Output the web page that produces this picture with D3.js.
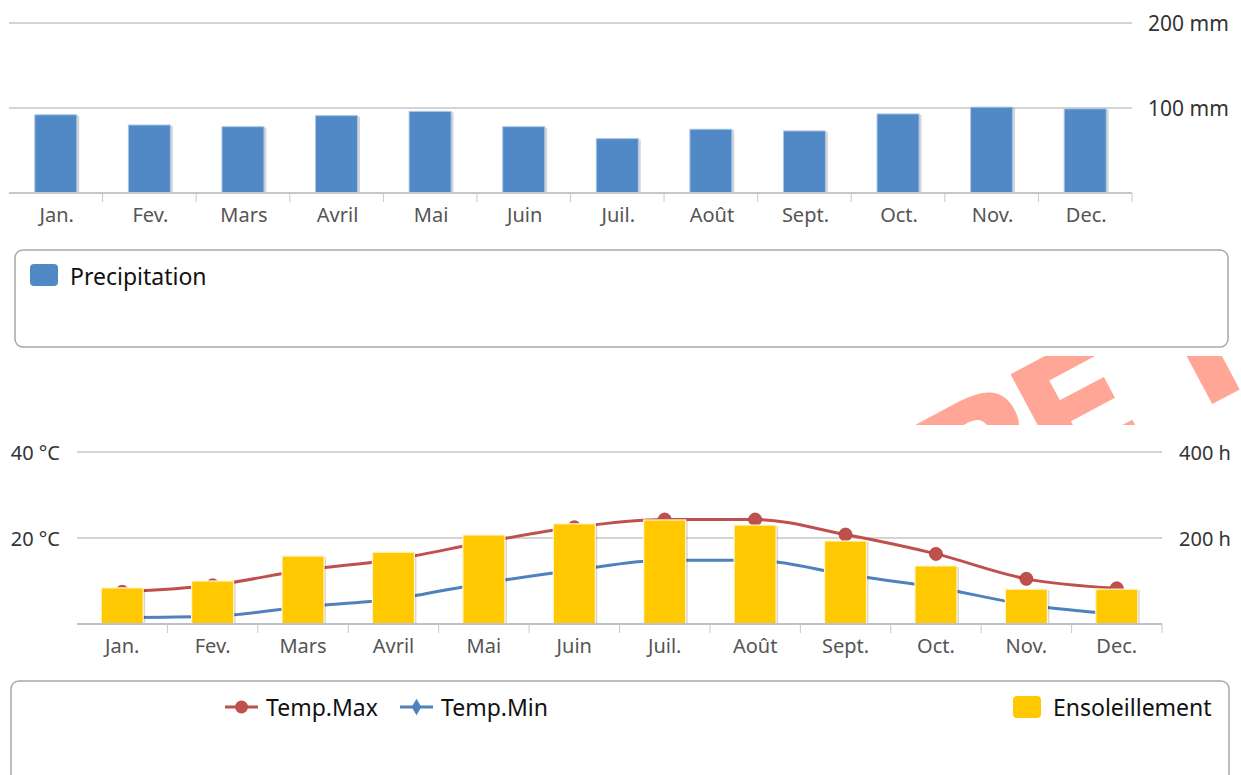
<!DOCTYPE html>
<html>
<head>
<meta charset="utf-8">
<script src="https://cdn.jsdelivr.net/npm/d3@7"></script>
<style>
  html, body { margin: 0; padding: 0; background: #ffffff; }
  svg { display: block; font-family: "Noto Sans", "DejaVu Sans", sans-serif; }
</style>
</head>
<body>
<svg id="chart" width="1241" height="775"></svg>
<script>
// ---------- DATA ----------
const months = ["Jan.", "Fev.", "Mars", "Avril", "Mai", "Juin", "Juil.", "Août", "Sept.", "Oct.", "Nov.", "Dec."];
const precipitation = [92, 80, 78, 91, 96, 78, 64, 75, 73, 93, 101, 99];      // mm
const tempMax = [7.5, 9, 12.5, 15, 19, 22.5, 24.3, 24.3, 20.8, 16.3, 10.5, 8.3]; // °C
const tempMin = [1.5, 1.8, 4, 5.8, 9.5, 12.5, 14.8, 14.8, 11.5, 8.5, 4.5, 2.3];  // °C
const sunshine = [84, 100, 158, 167, 207, 233, 242, 230, 193, 135, 81, 81];      // h
const precipTicks = [100, 200];
const tempTicks = [20, 40];
const sunTicks = [200, 400];
const legendTop = ["Precipitation"];
const legendBottomLines = ["Temp.Max", "Temp.Min"];
const legendBottomBars = ["Ensoleillement"];

// ---------- STYLE ----------
const C = {
  precip: "#5089c6", precipEdge: "#a9c6e8",
  sun: "#ffc800", sunEdge: "#fff6d0",
  max: "#c0504d", min: "#4f81bd",
  grid: "#d4d4d4", axis: "#c4c8cc", tick: "#c4c8cc",
  label: "#555555", yLabel: "#333333", legend: "#111111",
  shadow: "rgba(0,0,0,0.16)"
};

const svg = d3.select("#chart");

// ---------- WATERMARK (behind charts, only visible in the gap) ----------
const clip = svg.append("defs").append("clipPath").attr("id", "wmclip");
clip.append("rect").attr("x", 0).attr("y", 356).attr("width", 1241).attr("height", 69);
const wm = svg.append("g").attr("clip-path", "url(#wmclip)")
  .append("g").attr("transform", "translate(1013,373) rotate(-28)");
[["R", -125], ["E", -18], ["F", 146]].forEach(([ch, dx]) => {
  wm.append("text").attr("x", dx).attr("y", 121)
    .attr("font-family", "DejaVu Sans").attr("font-weight", "bold")
    .attr("font-size", 166).attr("fill", "#ffa696").text(ch);
});

// ---------- TOP CHART : precipitation ----------
const tc = { left: 9, right: 1132, base: 193 };
const xTop = d3.scaleBand().domain(months).range([tc.left, tc.right]).padding(0);
const yPrecip = d3.scaleLinear().domain([0, 200]).range([tc.base, 23]);

const gTop = svg.append("g");
gTop.selectAll("line.grid").data(precipTicks).join("line")
  .attr("x1", tc.left).attr("x2", tc.right)
  .attr("y1", d => yPrecip(d)).attr("y2", d => yPrecip(d))
  .attr("stroke", C.grid).attr("stroke-width", 2);
gTop.selectAll("text.yl").data(precipTicks).join("text")
  .attr("x", 1148).attr("y", d => yPrecip(d))
  .attr("dominant-baseline", "central")
  .attr("font-size", 21).attr("fill", C.yLabel)
  .text(d => d + " mm");

const bwTop = 43;
gTop.selectAll("rect.sh").data(precipitation).join("rect")
  .attr("x", (d, i) => xTop(months[i]) + xTop.bandwidth() / 2 - bwTop / 2 + 2)
  .attr("y", d => yPrecip(d) + 1)
  .attr("width", bwTop).attr("height", d => tc.base - yPrecip(d) - 1)
  .attr("fill", C.shadow);
gTop.selectAll("rect.bar").data(precipitation).join("rect")
  .attr("x", (d, i) => xTop(months[i]) + xTop.bandwidth() / 2 - bwTop / 2 + 0.5)
  .attr("y", d => yPrecip(d))
  .attr("width", bwTop - 1).attr("height", d => tc.base - yPrecip(d))
  .attr("fill", C.precip).attr("stroke", C.precipEdge).attr("stroke-width", 1);

gTop.append("line").attr("x1", tc.left).attr("x2", tc.right)
  .attr("y1", tc.base).attr("y2", tc.base)
  .attr("stroke", C.axis).attr("stroke-width", 2);
gTop.selectAll("line.tk").data(months).join("line")
  .attr("x1", d => xTop(d) + xTop.bandwidth()).attr("x2", d => xTop(d) + xTop.bandwidth())
  .attr("y1", tc.base).attr("y2", tc.base + 9)
  .attr("stroke", C.tick).attr("stroke-width", 1);
gTop.selectAll("text.xl").data(months).join("text")
  .attr("x", d => xTop(d) + xTop.bandwidth() / 2 + 1).attr("y", 214)
  .attr("text-anchor", "middle").attr("dominant-baseline", "central")
  .attr("font-size", 20).attr("fill", C.label).text(d => d);

// legend box 1
svg.append("rect").attr("x", 15).attr("y", 250).attr("width", 1213).attr("height", 97)
  .attr("rx", 8).attr("fill", "#fff").attr("stroke", "#a8a8a8").attr("stroke-width", 1.5);
svg.append("rect").attr("x", 30).attr("y", 264).attr("width", 28).attr("height", 22)
  .attr("rx", 4).attr("fill", C.precip);
svg.append("text").attr("x", 70).attr("y", 276).attr("dominant-baseline", "central")
  .attr("font-size", 23).attr("fill", C.legend).text(legendTop[0]);

// ---------- BOTTOM CHART : temperatures + sunshine ----------
const bc = { left: 77, right: 1162, base: 624 };
const xBot = d3.scaleBand().domain(months).range([bc.left, bc.right]).padding(0);
const yTemp = d3.scaleLinear().domain([0, 40]).range([bc.base, 452]);
const ySun = d3.scaleLinear().domain([0, 400]).range([bc.base, 452]);
const cx = i => xBot(months[i]) + xBot.bandwidth() / 2;

const gBot = svg.append("g");
// white background covering the watermark
gBot.append("rect").attr("x", 0).attr("y", 425).attr("width", 1241).attr("height", 350).attr("fill", "#fff");

gBot.selectAll("line.grid").data(tempTicks).join("line")
  .attr("x1", bc.left).attr("x2", bc.right)
  .attr("y1", d => yTemp(d)).attr("y2", d => yTemp(d))
  .attr("stroke", C.grid).attr("stroke-width", 2);
gBot.selectAll("text.yl").data(tempTicks).join("text")
  .attr("x", 60).attr("y", d => yTemp(d)).attr("text-anchor", "end")
  .attr("dominant-baseline", "central").attr("font-size", 20).attr("fill", C.yLabel)
  .text(d => d + " °C");
gBot.selectAll("text.yr").data(sunTicks).join("text")
  .attr("x", 1179).attr("y", d => ySun(d))
  .attr("dominant-baseline", "central").attr("font-size", 20).attr("fill", C.yLabel)
  .text(d => d + " h");

const line = d3.line().x((d, i) => cx(i)).curve(d3.curveMonotoneX);
gBot.append("path").datum(tempMin).attr("d", line.y(d => yTemp(d)))
  .attr("fill", "none").attr("stroke", C.min).attr("stroke-width", 3);
gBot.append("path").datum(tempMax).attr("d", line.y(d => yTemp(d)))
  .attr("fill", "none").attr("stroke", C.max).attr("stroke-width", 3);
gBot.selectAll("path.dmin").data(tempMin).join("path")
  .attr("d", d3.symbol(d3.symbolDiamond, 70))
  .attr("transform", (d, i) => `translate(${cx(i)},${yTemp(d)})`)
  .attr("fill", C.min);
gBot.selectAll("circle.dmax").data(tempMax).join("circle")
  .attr("cx", (d, i) => cx(i)).attr("cy", d => yTemp(d)).attr("r", 6.5)
  .attr("fill", C.max).attr("stroke", "#a8403d").attr("stroke-width", 0.8);

const bwBot = 42;
gBot.selectAll("rect.sh").data(sunshine).join("rect")
  .attr("x", (d, i) => cx(i) - bwBot / 2 + 2).attr("y", d => ySun(d) + 1)
  .attr("width", bwBot).attr("height", d => bc.base - ySun(d) - 1)
  .attr("fill", C.shadow);
gBot.selectAll("rect.bar").data(sunshine).join("rect")
  .attr("x", (d, i) => cx(i) - bwBot / 2).attr("y", d => ySun(d))
  .attr("width", bwBot).attr("height", d => bc.base - ySun(d))
  .attr("fill", C.sun).attr("stroke", C.sunEdge).attr("stroke-width", 1.2);

gBot.append("line").attr("x1", bc.left).attr("x2", bc.right)
  .attr("y1", bc.base).attr("y2", bc.base)
  .attr("stroke", "#b9c3cd").attr("stroke-width", 2);
gBot.selectAll("line.tk").data(months).join("line")
  .attr("x1", d => xBot(d) + xBot.bandwidth()).attr("x2", d => xBot(d) + xBot.bandwidth())
  .attr("y1", bc.base).attr("y2", bc.base + 9)
  .attr("stroke", C.tick).attr("stroke-width", 1);
gBot.selectAll("text.xl").data(months).join("text")
  .attr("x", d => xBot(d) + xBot.bandwidth() / 2).attr("y", 645)
  .attr("text-anchor", "middle").attr("dominant-baseline", "central")
  .attr("font-size", 20).attr("fill", C.label).text(d => d);

// legend box 2
svg.append("rect").attr("x", 11).attr("y", 681).attr("width", 1218).attr("height", 120)
  .attr("rx", 8).attr("fill", "#fff").attr("stroke", "#a8a8a8").attr("stroke-width", 1.5);
const lg = svg.append("g");
const legendLineItems = [
  { name: legendBottomLines[0], color: C.max, x: 225, shape: "circle" },
  { name: legendBottomLines[1], color: C.min, x: 400, shape: "diamond" }
];
legendLineItems.forEach(it => {
  lg.append("line").attr("x1", it.x).attr("x2", it.x + 33).attr("y1", 707).attr("y2", 707)
    .attr("stroke", it.color).attr("stroke-width", 3);
  if (it.shape === "circle") {
    lg.append("circle").attr("cx", it.x + 16.5).attr("cy", 707).attr("r", 6.5).attr("fill", it.color);
  } else {
    lg.append("path").attr("d", d3.symbol(d3.symbolDiamond, 80))
      .attr("transform", `translate(${it.x + 16.5},707)`).attr("fill", it.color);
  }
  lg.append("text").attr("x", it.x + 41).attr("y", 707).attr("dominant-baseline", "central")
    .attr("font-size", 23).attr("fill", C.legend).text(it.name);
});
lg.append("rect").attr("x", 1013).attr("y", 696).attr("width", 28).attr("height", 22)
  .attr("rx", 4).attr("fill", C.sun);
lg.append("text").attr("x", 1053).attr("y", 707).attr("dominant-baseline", "central")
  .attr("font-size", 23).attr("fill", C.legend).text(legendBottomBars[0]);
</script>
</body>
</html>
